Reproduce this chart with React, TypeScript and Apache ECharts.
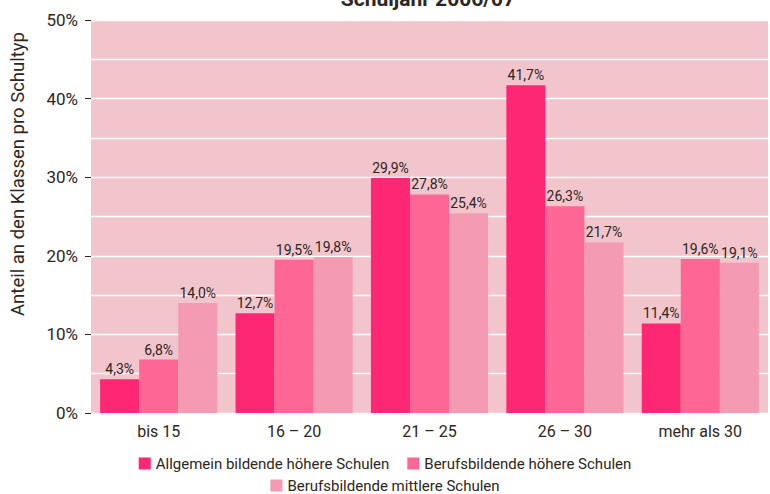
import React, { useEffect, useRef } from "react";
import * as echarts from "echarts";

const categories = ["bis 15", "16 – 20", "21 – 25", "26 – 30", "mehr als 30"];
const seriesNames = [
  "Allgemein bildende höhere Schulen",
  "Berufsbildende höhere Schulen",
  "Berufsbildende mittlere Schulen",
];
const ahs = [4.3, 12.7, 29.9, 41.7, 11.4];
const bhs = [6.8, 19.5, 27.8, 26.3, 19.6];
const bms = [14.0, 19.8, 25.4, 21.7, 19.1];
const colors = ["#fe2773", "#fe6795", "#f49ab3"];

const FONT = "Roboto, 'Liberation Sans', sans-serif";
const TXT = "#2e2620";

export default function App() {
  const ref = useRef<HTMLDivElement>(null);
  useEffect(() => {
    if (!ref.current) return;
    const chart = echarts.init(ref.current, null, { renderer: "svg" });
    const mk = (name: string, data: number[], color: string) => ({
      name,
      type: "bar",
      data,
      barGap: "0%",
      barCategoryGap: "13.5%",
      itemStyle: { color },
      label: {
        show: true,
        position: "top",
        distance: 3,
        fontFamily: FONT,
        fontSize: 14,
        color: TXT,
        formatter: (p: any) => p.value.toFixed(1).replace(".", ",") + "%",
      },
    });
    chart.setOption({
      animation: false,
      textStyle: { fontFamily: FONT },
      grid: { left: 91, right: 2, top: 20, bottom: 81, show: true, backgroundColor: "#f2c4cc", borderWidth: 0 },
      graphic: [
        {
          type: "text",
          x: 428,
          y: 9,
          style: {
            text: "Schuljahr 2006/07",
            fontFamily: FONT,
            fontSize: 21,
            fontWeight: "bold",
            fill: TXT,
            align: "center",
            verticalAlign: "bottom",
          },
        },
        {
          type: "text",
          x: 18,
          y: 174,
          rotation: Math.PI / 2,
          style: {
            text: "Anteil an den Klassen pro Schultyp",
            fontFamily: FONT,
            fontSize: 18.5,
            fill: TXT,
            align: "center",
            verticalAlign: "middle",
          },
        },
      ],
      legend: [
        {
          data: seriesNames.slice(0, 2),
          top: 451,
          left: "center",
          itemWidth: 12,
          itemHeight: 12,
          itemGap: 18,
          icon: "rect",
          textStyle: { fontFamily: FONT, fontSize: 15, color: TXT },
        },
        {
          data: seriesNames.slice(2),
          top: 473,
          left: "center",
          itemWidth: 12,
          itemHeight: 12,
          icon: "rect",
          textStyle: { fontFamily: FONT, fontSize: 15, color: TXT },
        },
      ],
      xAxis: {
        type: "category",
        data: categories,
        axisLine: { show: false },
        axisTick: { show: false },
        axisLabel: { fontFamily: FONT, fontSize: 16, color: TXT, margin: 10 },
      },
      yAxis: {
        type: "value",
        min: 0,
        max: 50,
        interval: 10,
        axisLine: { show: false },
        axisTick: { show: true, length: 6, lineStyle: { color: TXT } },
        axisLabel: { fontFamily: FONT, fontSize: 17, color: TXT, margin: 13, formatter: "{value}%" },
        splitLine: { show: true, lineStyle: { color: "#ffffff", width: 1.3 } },
        minorTick: { show: false, splitNumber: 2 },
        minorSplitLine: { show: true, lineStyle: { color: "#ffffff", width: 1.3 } },
      },
      series: [mk(seriesNames[0], ahs, colors[0]), mk(seriesNames[1], bhs, colors[1]), mk(seriesNames[2], bms, colors[2])],
    });
    return () => chart.dispose();
  }, []);
  return <div ref={ref} style={{ position: "absolute", left: 0, top: 0, width: 770, height: 494 }} />;
}
